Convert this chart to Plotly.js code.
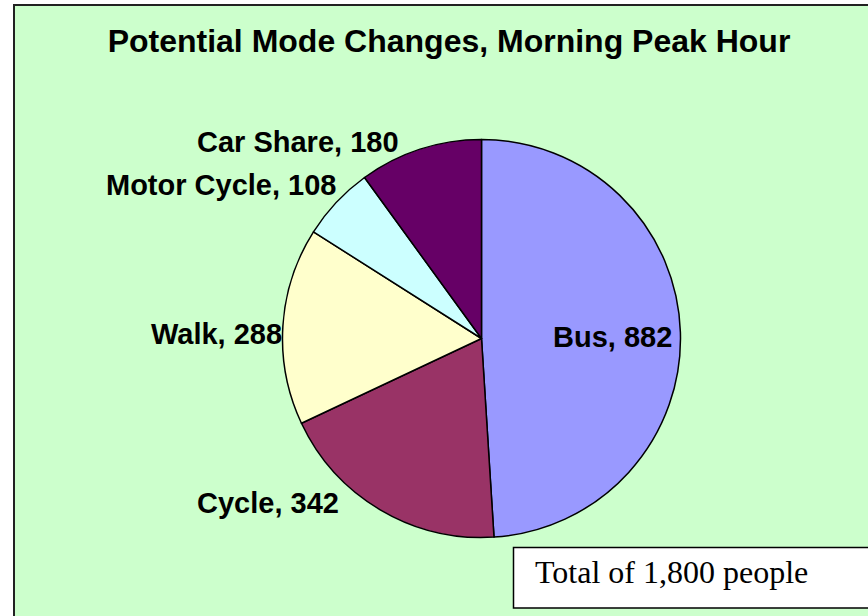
<!DOCTYPE html>
<html>
<head>
<meta charset="utf-8">
<script src="https://cdn.plot.ly/plotly-3.0.1.min.js"></script>
<style>html,body{margin:0;padding:0;background:#fff;}#chart{width:868px;height:616px;}</style>
</head>
<body>
<div id="chart"></div>
<script>
// ---- data ----
const modes = ["Bus", "Cycle", "Walk", "Motor Cycle", "Car Share"];
const people = [882, 342, 288, 108, 180];
const sliceColors = ["#9999FF", "#993366", "#FFFFCC", "#CCFFFF", "#660066"];
const chartTitle = "Potential Mode Changes, Morning Peak Hour";
const totalNote = "Total of 1,800 people";

// ---- layout helpers (pixel positions for labels, Excel-style placement) ----
const W = 868, H = 616;
const px = x => x / W;
const py = y => 1 - y / H;
const labelCenters = [[612, 337], [267.5, 502.5], [216, 334], [221, 185], [298, 142]];

const annotations = modes.map((m, i) => ({
  text: m + ", " + people[i],
  xref: "paper", yref: "paper",
  x: px(labelCenters[i][0]), y: py(labelCenters[i][1]),
  xanchor: "center", yanchor: "middle",
  showarrow: false,
  font: {family: "Liberation Sans, Arial, sans-serif", size: 29, color: "#000", weight: "bold"}
}));

annotations.push({
  text: totalNote,
  xref: "paper", yref: "paper",
  x: px(533), y: py(572),
  xanchor: "left", yanchor: "middle",
  showarrow: false,
  font: {family: "Liberation Serif, Times New Roman, serif", size: 32, color: "#000"}
});

const data = [{
  type: "pie",
  labels: modes,
  values: people,
  sort: false,
  direction: "clockwise",
  rotation: 0,
  textinfo: "none",
  hoverinfo: "label+value",
  marker: {colors: sliceColors, line: {color: "#000", width: 1.5}},
  domain: {x: [px(282.5), px(680.5)], y: [py(537.5), py(139.5)]},
  showlegend: false
}];

const layout = {
  width: W, height: H,
  margin: {l: 0, r: 0, t: 0, b: 0},
  paper_bgcolor: "#FFFFFF",
  title: {
    text: "<b>" + chartTitle + "</b>",
    x: px(449), xanchor: "center",
    y: py(41), yanchor: "middle", yref: "container",
    font: {family: "Liberation Sans, Arial, sans-serif", size: 32, color: "#000"}
  },
  shapes: [
    {type: "rect", xref: "paper", yref: "paper", layer: "below",
     x0: px(14), x1: px(880), y0: py(630), y1: py(5),
     fillcolor: "#CCFFCC", line: {color: "#222", width: 2}},
    {type: "rect", xref: "paper", yref: "paper", layer: "below",
     x0: px(513.5), x1: px(880), y0: py(608), y1: py(547.5),
     fillcolor: "#FFFFFF", line: {color: "#000", width: 1.5}}
  ],
  annotations: annotations
};

Plotly.newPlot("chart", data, layout, {displayModeBar: false, staticPlot: true});
</script>
</body>
</html>
